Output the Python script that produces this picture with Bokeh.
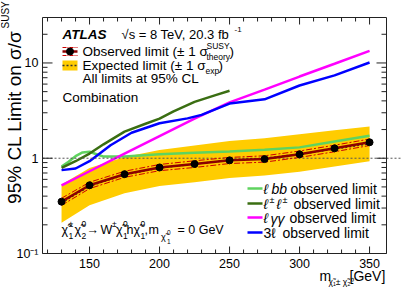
import math
from bokeh.plotting import figure
from bokeh.models import Label
from bokeh.core.properties import value
from bokeh.embed import file_html
from bokeh.resources import INLINE

# ---------------- data ----------------
masses = [130, 150, 175, 200, 225, 250, 275, 300, 325, 350]
obs_limit = [0.35, 0.52, 0.68, 0.80, 0.87, 0.95, 0.98, 1.10, 1.27, 1.47]
obs_theory_up = [0.38, 0.56, 0.73, 0.86, 0.94, 1.02, 1.06, 1.19, 1.37, 1.59]
obs_theory_down = [0.32, 0.48, 0.63, 0.74, 0.80, 0.88, 0.91, 1.02, 1.17, 1.36]
exp_limit = [0.34, 0.51, 0.67, 0.79, 0.87, 0.95, 1.00, 1.10, 1.25, 1.42]
exp_up = [0.53, 0.79, 1.03, 1.22, 1.36, 1.52, 1.62, 1.78, 1.97, 2.15]
exp_down = [0.21, 0.32, 0.43, 0.51, 0.56, 0.62, 0.66, 0.72, 0.82, 0.93]

lbb_mass = [130, 135, 140, 145, 150, 155, 160, 175, 200, 225, 250, 275, 300, 325, 350]
lbb_limit = [0.82, 0.92, 1.05, 1.15, 1.17, 1.10, 1.04, 1.04, 1.10, 1.14, 1.18, 1.23, 1.30, 1.50, 1.72]

ss_mass = [130, 140, 150, 160, 175, 190, 200, 210, 225, 240, 250]
ss_limit = [0.79, 0.93, 1.12, 1.40, 1.90, 2.30, 2.60, 3.10, 3.90, 4.60, 5.10]

lgg_mass = [130, 150, 175, 200, 225, 250, 275, 300, 325, 350]
lgg_limit = [0.52, 0.73, 1.12, 1.71, 2.60, 3.85, 5.25, 7.20, 9.80, 13.4]

l3_mass = [130, 140, 150, 165, 180, 200, 220, 230, 250, 275, 300, 325, 350]
l3_limit = [0.75, 0.78, 0.93, 1.37, 1.85, 2.33, 2.62, 2.85, 3.75, 4.15, 5.80, 7.40, 10.1]

unity = 1.0

x_major = [150, 200, 250, 300, 350]
x_minor = [120, 130, 140, 160, 170, 180, 190, 210, 220, 230, 240, 260, 270, 280, 290,
           310, 320, 330, 340]
x_labels = ["150", "200", "250", "300", "350"]
y_major = [0.1, 1, 10]
y_minor = [0.2, 0.3, 0.4, 0.5, 0.6, 0.7, 0.8, 0.9, 2, 3, 4, 5, 6, 7, 8, 9, 20]
y_labels = ["10⁻¹", "1", "10"]
x_axis_limits = (116.4, 362.1)
y_axis_limits = (0.1, 30.0)

# ---------------- style / layout ----------------
FONT = "Liberation Sans"
YELLOW = "#ffcc00"
OBS = "#8b0000"
THEO = "#cc0000"
C_LBB = "#5fd35f"
C_SS = "#3a6e12"
C_LGG = "#ff00ff"
C_3L = "#0000ff"
INK = "#222222"

W, H = 407, 292
VL, VT, VR, VB = 42, 17, 386, 253          # visible axes box, canvas pixels

KX = (x_axis_limits[1] - x_axis_limits[0]) / (VR - VL)
LY = (math.log10(y_axis_limits[1]) - math.log10(y_axis_limits[0])) / (VB - VT)
X_RANGE = (x_axis_limits[0] - VL * KX, x_axis_limits[1] + (W - VR) * KX)
Y_TOP_LOG = math.log10(y_axis_limits[1]) + VT * LY
Y_RANGE = (10 ** (Y_TOP_LOG - H * LY), 10 ** Y_TOP_LOG)


def dx(px):
    return X_RANGE[0] + px * KX


def dy(py):
    return 10 ** (Y_TOP_LOG - py * LY)


p = figure(width=W, height=H, x_range=X_RANGE, y_range=Y_RANGE, y_axis_type="log",
           x_axis_location=None, y_axis_location=None, min_border=0,
           output_backend="svg", toolbar_location=None)
p.grid.visible = False
p.outline_line_color = None
p.background_fill_color = "white"
p.border_fill_color = "white"

X0, X1 = x_axis_limits
Y0, Y1 = y_axis_limits

# ---------------- marks ----------------
p.varea(x=masses, y1=exp_down, y2=exp_up, fill_color=YELLOW)

p.line(lbb_mass, lbb_limit, line_color=C_LBB, line_width=2.5)
p.line(ss_mass, ss_limit, line_color=C_SS, line_width=2.5)
p.line(lgg_mass, lgg_limit, line_color=C_LGG, line_width=2.5)
p.line(l3_mass, l3_limit, line_color=C_3L, line_width=2.5)

p.line([X0, dx(400)], [unity, unity], line_color="#555555", line_dash="2 2", line_width=1)

p.line(masses, exp_limit, line_color="#333333", line_dash="2 2", line_width=1.5)
p.line(masses, obs_theory_up, line_color=THEO, line_dash="6 2 2 2", line_width=1)
p.line(masses, obs_theory_down, line_color=THEO, line_dash="6 2 2 2", line_width=1)
p.line(masses, obs_limit, line_color=OBS, line_width=2.5)
p.scatter(masses, obs_limit, size=7, color="black")

# ---------------- axes box, ticks, tick labels ----------------
p.line([X0, X1, X1, X0, X0], [Y0, Y0, Y1, Y1, Y0], line_color=INK, line_width=1)

nM, nm = len(x_major), len(x_minor)
p.segment(x0=x_major, y0=[Y0] * nM, x1=x_major, y1=[dy(VB - 7)] * nM, line_color=INK)
p.segment(x0=x_major, y0=[Y1] * nM, x1=x_major, y1=[dy(VT + 7)] * nM, line_color=INK)
p.segment(x0=x_minor, y0=[Y0] * nm, x1=x_minor, y1=[dy(VB - 4)] * nm, line_color=INK)
p.segment(x0=x_minor, y0=[Y1] * nm, x1=x_minor, y1=[dy(VT + 4)] * nm, line_color=INK)

yM, ym = len(y_major), len(y_minor)
p.segment(x0=[X0] * yM, y0=y_major, x1=[dx(VL + 10)] * yM, y1=y_major, line_color=INK)
p.segment(x0=[X1] * yM, y0=y_major, x1=[dx(VR - 10)] * yM, y1=y_major, line_color=INK)
p.segment(x0=[X0] * ym, y0=y_minor, x1=[dx(VL + 5)] * ym, y1=y_minor, line_color=INK)
p.segment(x0=[X1] * ym, y0=y_minor, x1=[dx(VR - 5)] * ym, y1=y_minor, line_color=INK)

p.text(x=x_major, y=[dy(263)] * nM, text=x_labels, text_font=value(FONT),
       text_font_size="12.5px", text_align="center", text_baseline="middle",
       text_color="black")
p.text(x=[dx(38)] * yM, y=y_major, text=y_labels, text_font=value(FONT),
       text_font_size="12.5px", text_align="right", text_baseline="middle",
       text_color="black")


# ---------------- texts ----------------
def txt(px, py, s, size=13, style="normal", angle=0.0, align="left", color="black"):
    p.add_layout(Label(x=dx(px), y=dy(py), text=s, text_font=FONT,
                       text_font_size=f"{size}px", text_font_style=style,
                       text_baseline="middle", text_align=align, angle=angle,
                       text_color=color))


txt(62, 34, "ATLAS", 13.5, "bold italic")
txt(121, 34, "√s = 8 TeV, 20.3 fb", 13)
txt(234, 29, "-1", 8)

# top-left legend symbols
p.line([dx(62), dx(77)], [dy(47), dy(47)], line_color=THEO, line_dash="4 1 1 1", line_width=1)
p.line([dx(62), dx(77)], [dy(55), dy(55)], line_color=THEO, line_dash="4 1 1 1", line_width=1)
p.line([dx(62), dx(77)], [dy(51), dy(51)], line_color=OBS, line_width=2.5)
p.scatter([dx(69.5)], [dy(51)], size=7, color="black")
p.quad(left=dx(62), right=dx(77), bottom=dy(70), top=dy(60), fill_color=YELLOW, line_color=None)
p.line([dx(62), dx(77)], [dy(65), dy(65)], line_color="#333333", line_dash="2 2", line_width=1.5)

txt(82, 51, "Observed limit (± 1 σ", 13.5)
txt(206, 45, "SUSY", 8.5)
txt(206, 56, "theory", 8.5)
txt(229, 51, ")", 13.5)
txt(82, 65, "Expected limit (± 1 σ", 13.5)
txt(205, 70, "exp", 8.5)
txt(218, 65, ")", 13.5)
txt(82, 78, "All limits at 95% CL", 13.5)
txt(62, 97, "Combination", 13.5)

# bottom-right legend
for yy, col in ((188, C_LBB), (203, C_SS), (217, C_LGG), (232, C_3L)):
    p.line([dx(247), dx(262)], [dy(yy), dy(yy)], line_color=col, line_width=2.5)
txt(263, 188, "ℓ", 14, "italic")
txt(271, 188, "bb", 14, "italic")
txt(290, 188, "observed limit", 14)
txt(263, 203, "ℓ", 14, "italic")
txt(269, 199, "±", 9)
txt(276, 203, "ℓ", 14, "italic")
txt(282, 199, "±", 9)
txt(293, 203, "observed limit", 14)
txt(263, 217, "ℓ", 14, "italic")
txt(270, 218, "γγ", 14, "italic")
txt(289, 217, "observed limit", 14)
txt(263, 232, "3ℓ", 14)
txt(282, 232, "observed limit", 14)

# process formula
MY, SUP, SUB = 229, 223, 235
for s, x, kind in (("χ̃", 61, "m"), ("±", 68, "p"), ("1", 68, "b"),
                   ("χ̃", 74, "m"), ("0", 81, "p"), ("2", 81, "b"),
                   ("→", 86, "m"), ("W", 100, "m"), ("±", 111.5, "p"),
                   ("χ̃", 115.5, "m"), ("0", 122.5, "p"), ("1", 122.5, "b"),
                   ("h", 126, "m"), ("χ̃", 133, "m"), ("0", 140, "p"), ("1", 140, "b"),
                   (",", 144, "m"), ("m", 148, "m"), ("= 0 GeV", 177, "m")):
    if kind == "m":
        txt(x, MY, s, 12.5)
    elif kind == "p":
        txt(x, SUP, s, 8.5)
    else:
        txt(x, SUB, s, 8.5)
txt(160.5, 236, "χ̃", 9)
txt(166.5, 232, "0", 6.5)
txt(166.5, 241, "1", 6.5)

# axis titles
txt(14, 30, "95% CL Limit on σ/σ", 19, angle=math.pi / 2, align="right")
txt(5, 28, "SUSY", 10, angle=math.pi / 2, align="left")
txt(319, 275, "m", 14)
txt(328, 281, "χ̃₁± χ̃₂⁰", 8.5)
txt(349, 275, "[GeV]", 14)

open("out.html", "w").write(file_html(p, INLINE))
